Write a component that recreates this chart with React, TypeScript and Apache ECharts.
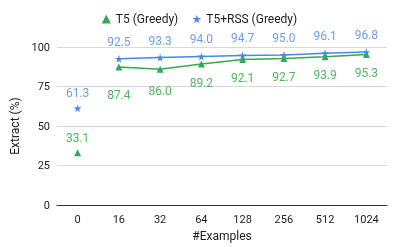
import React, { useEffect, useRef } from "react";
import * as echarts from "echarts";

const categories = ["0", "16", "32", "64", "128", "256", "512", "1024"];
const t5Greedy = [33.1, 87.4, 86.0, 89.2, 92.1, 92.7, 93.9, 95.3];
const t5RssGreedy = [61.3, 92.5, 93.3, 94.0, 94.7, 95.0, 96.1, 96.8];
const yTicks = { min: 0, max: 100, interval: 25 };

const STAR =
  "path://M50,0 L61,35 L98,35 L68,57 L79,91 L50,70 L21,91 L32,57 L2,35 L39,35 Z";
const GREEN = "#34a853";
const GREEN_TEXT = "#4cb85c";
const BLUE = "#4a86e8";
const BLUE_TEXT = "#6d9eeb";
const FONT = "Roboto";

// extra downward shift for crowded green labels (layout only)
const greenLabelExtra = [0, 10, 3, 0, 0, 0, 0, 0];

export default function App() {
  const ref = useRef<HTMLDivElement>(null);
  useEffect(() => {
    if (!ref.current) return;
    const chart = echarts.init(ref.current, null, { renderer: "svg" });
    const firstOnly = (arr: number[]) => arr.map((v, i) => (i === 0 ? v : "-"));
    const restOnly = (arr: number[]) => arr.map((v, i) => (i === 0 ? "-" : v));

    const greenRest = t5Greedy.map((v, i) =>
      i === 0
        ? "-"
        : { value: v, label: { offset: [0, greenLabelExtra[i]] } }
    );

    chart.setOption({
      animation: false,
      textStyle: { fontFamily: FONT },
      legend: {
        top: 8,
        left: "center",
        itemWidth: 9,
        itemHeight: 9,
        itemGap: 14,
        textStyle: { fontSize: 12, color: "#222", fontFamily: FONT },
        data: [
          { name: "T5 (Greedy)", icon: "triangle" },
          { name: "T5+RSS (Greedy)", icon: STAR },
        ],
      },
      grid: { left: 57, right: 12, top: 47, bottom: 40 },
      xAxis: {
        type: "category",
        data: categories,
        boundaryGap: true,
        name: "#Examples",
        nameLocation: "middle",
        nameGap: 22,
        nameTextStyle: { fontSize: 12, color: "#222", fontFamily: FONT },
        axisLine: { lineStyle: { color: "#333", width: 1 } },
        axisTick: { show: false },
        axisLabel: { fontSize: 11, color: "#222", margin: 9, fontFamily: FONT },
      },
      yAxis: {
        type: "value",
        min: yTicks.min,
        max: yTicks.max,
        interval: yTicks.interval,
        name: "Extract (%)",
        nameLocation: "middle",
        nameGap: 34,
        nameTextStyle: { fontSize: 12, color: "#222", fontFamily: FONT },
        axisLine: { show: false },
        axisTick: { show: false },
        splitLine: { lineStyle: { color: "#d9d9d9" } },
        axisLabel: { fontSize: 11, color: "#222", margin: 7, fontFamily: FONT },
      },
      series: [
        {
          name: "T5 (Greedy)",
          type: "line",
          data: firstOnly(t5Greedy),
          symbol: "triangle",
          symbolSize: 7,
          showAllSymbol: true,
          itemStyle: { color: GREEN },
          lineStyle: { color: GREEN, width: 1.5 },
          label: {
            show: true,
            position: "top",
            distance: 5,
            color: GREEN_TEXT,
            fontSize: 12,
            fontFamily: FONT,
            formatter: (p: any) => Number(p.value).toFixed(1),
          },
        },
        {
          name: "T5 (Greedy)",
          type: "line",
          data: greenRest,
          symbol: "triangle",
          symbolSize: 7,
          showAllSymbol: true,
          itemStyle: { color: GREEN },
          lineStyle: { color: GREEN, width: 1.5 },
          label: {
            show: true,
            position: "bottom",
            distance: 9,
            color: GREEN_TEXT,
            fontSize: 12,
            fontFamily: FONT,
            formatter: (p: any) => Number(p.value).toFixed(1),
          },
        },
        {
          name: "T5+RSS (Greedy)",
          type: "line",
          data: firstOnly(t5RssGreedy),
          symbol: STAR,
          symbolSize: 8,
          showAllSymbol: true,
          itemStyle: { color: BLUE },
          lineStyle: { color: BLUE, width: 1.5 },
          label: {
            show: true,
            position: "top",
            distance: 5,
            color: BLUE_TEXT,
            fontSize: 12,
            fontFamily: FONT,
            formatter: (p: any) => Number(p.value).toFixed(1),
          },
        },
        {
          name: "T5+RSS (Greedy)",
          type: "line",
          data: restOnly(t5RssGreedy),
          symbol: STAR,
          symbolSize: 8,
          showAllSymbol: true,
          itemStyle: { color: BLUE },
          lineStyle: { color: BLUE, width: 1.5 },
          label: {
            show: true,
            position: "top",
            distance: 7,
            color: BLUE_TEXT,
            fontSize: 12,
            fontFamily: FONT,
            formatter: (p: any) => Number(p.value).toFixed(1),
          },
        },
      ],
    });
    return () => chart.dispose();
  }, []);
  return (
    <div
      ref={ref}
      style={{ position: "fixed", left: 0, top: 0, width: 399, height: 247 }}
    />
  );
}
